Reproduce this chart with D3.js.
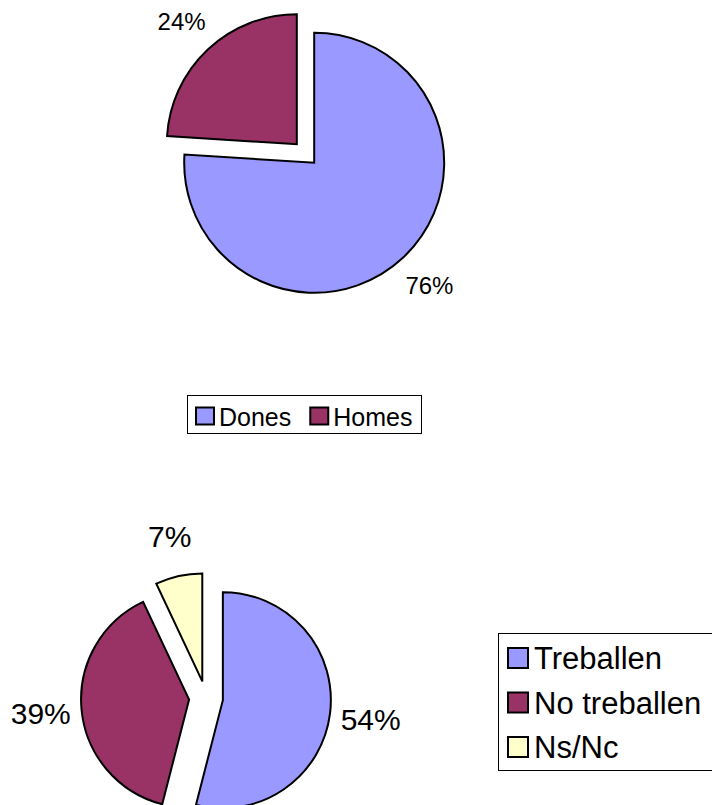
<!DOCTYPE html>
<html lang="ca">
<head>
    <meta charset="UTF-8">
    <title>Dones / Homes - Treballen</title>
    <script src="https://d3js.org/d3.v7.min.js"></script>
    <style>
        body {
            margin: 0;
            background-color: #ffffff;
            font-family: "Liberation Sans", Arial, sans-serif;
        }
        svg {
            display: block;
        }
    </style>
</head>
<body>
    <div id="chart"></div>

    <script>
        // dades del primer gràfic
        const topCategories = ["Dones", "Homes"];
        const topValues = [76, 24];

        // dades del segon gràfic
        const bottomCategories = ["Treballen", "No treballen", "Ns/Nc"];
        const bottomValues = [54, 39, 7];

        const sliceColors = ["#9999FF", "#993366", "#FFFFCC"];

        const width = 712;
        const height = 805;

        const svg = d3.select("#chart")
            .append("svg")
            .attr("width", width)
            .attr("height", height);

        const color = d3.scaleOrdinal().range(sliceColors);

        // dibuixa un pastís amb les porcions separades
        function drawPie(opts) {
            const data = opts.categories.map((c, i) => ({ name: c, value: opts.values[i] }));
            const pie = d3.pie().sort(null).value(d => d.value);
            const arc = d3.arc().innerRadius(0).outerRadius(opts.radius);
            const arcs = pie(data);

            const g = svg.append("g")
                .attr("transform", `translate(${opts.cx},${opts.cy})`);

            const dir = d => {
                const mid = (d.startAngle + d.endAngle) / 2;
                return [Math.sin(mid), -Math.cos(mid)];
            };

            g.selectAll("path")
                .data(arcs)
                .enter()
                .append("path")
                .attr("d", arc)
                .attr("transform", d => {
                    const [x, y] = dir(d);
                    return `translate(${x * opts.explode},${y * opts.explode})`;
                })
                .attr("fill", (d, i) => color(i))
                .attr("stroke", "#000")
                .attr("stroke-width", 2)
                .attr("stroke-linejoin", "miter");

            g.selectAll("text")
                .data(arcs)
                .enter()
                .append("text")
                .attr("x", d => dir(d)[0] * opts.labelDist)
                .attr("y", d => dir(d)[1] * opts.labelDist + opts.labelSize * 0.36)
                .attr("text-anchor", "middle")
                .attr("font-size", opts.labelSize)
                .attr("fill", "#000")
                .text(d => d.data.value + "%");
        }

        drawPie({
            categories: topCategories, values: topValues,
            cx: 305.5, cy: 153.5, radius: 130, explode: 12.7,
            labelDist: 181, labelSize: 24
        });

        drawPie({
            categories: bottomCategories, values: bottomValues,
            cx: 206, cy: 698, radius: 108, explode: 17,
            labelDist: 166, labelSize: 30
        });

        // llegenda horitzontal (primer gràfic)
        const leg1 = svg.append("g");
        leg1.append("rect")
            .attr("x", 187.5).attr("y", 395.5)
            .attr("width", 234).attr("height", 38)
            .attr("fill", "#fff").attr("stroke", "#000").attr("stroke-width", 1);

        let lx = 196;
        topCategories.forEach((c, i) => {
            leg1.append("rect")
                .attr("x", lx).attr("y", 407.5)
                .attr("width", 18).attr("height", 17)
                .attr("fill", color(i))
                .attr("stroke", "#000").attr("stroke-width", 2);
            const t = leg1.append("text")
                .attr("x", lx + 23).attr("y", 426)
                .attr("font-size", 25)
                .attr("fill", "#000")
                .text(c);
            lx += 23 + t.node().getComputedTextLength() + 19;
        });

        // llegenda vertical (segon gràfic)
        const leg2 = svg.append("g");
        leg2.append("rect")
            .attr("x", 498.5).attr("y", 633.5)
            .attr("width", 230).attr("height", 137)
            .attr("fill", "#fff").attr("stroke", "#000").attr("stroke-width", 1);

        bottomCategories.forEach((c, i) => {
            const base = 669 + i * 44.5;
            leg2.append("rect")
                .attr("x", 508).attr("y", base - 21)
                .attr("width", 20).attr("height", 20)
                .attr("fill", color(i))
                .attr("stroke", "#000").attr("stroke-width", 2);
            leg2.append("text")
                .attr("x", 534).attr("y", base)
                .attr("font-size", 31)
                .attr("fill", "#000")
                .text(c);
        });
    </script>
</body>
</html>
